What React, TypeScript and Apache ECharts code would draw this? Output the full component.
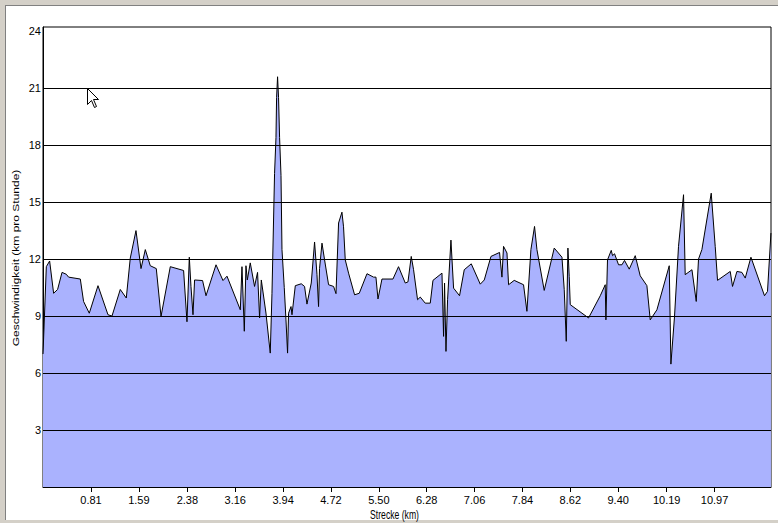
import React, { useEffect, useRef } from "react";
import * as echarts from "echarts";

const distanceKm = [
  0.028, 0.082, 0.136, 0.201, 0.266, 0.338, 0.408, 0.445, 0.636, 0.689,
  0.782, 0.924, 1.087, 1.152, 1.287, 1.385, 1.45, 1.543, 1.625, 1.695,
  1.776, 1.874, 1.951, 2.102, 2.319, 2.374, 2.412, 2.439, 2.472, 2.498,
  2.628, 2.684, 2.847, 2.961, 3.026,
  3.243, 3.27, 3.308, 3.335, 3.357, 3.405, 3.475, 3.524, 3.557, 3.585,
  3.661, 3.731, 3.759, 3.801, 3.824, 3.834, 3.85, 3.866, 3.883, 3.906,
  3.922, 3.959, 3.987, 4.013, 4.029, 4.069, 4.085, 4.139, 4.236, 4.29,
  4.329, 4.399, 4.453, 4.492, 4.518, 4.534, 4.574, 4.616, 4.681, 4.763,
  4.802, 4.844, 4.899, 4.925, 4.953, 5.007, 5.105, 5.181, 5.307, 5.414,
  5.453, 5.486, 5.551, 5.73, 5.821, 5.931, 5.975, 6.028,
  6.066, 6.131, 6.175, 6.256, 6.338, 6.382, 6.529, 6.555, 6.571, 6.594,
  6.62, 6.675, 6.718, 6.815, 6.892, 7.006, 7.153, 7.218, 7.327, 7.467,
  7.506, 7.532, 7.588, 7.614, 7.706, 7.858, 7.913, 7.978, 8.037, 8.076,
  8.195, 8.358, 8.484, 8.521, 8.554, 8.581, 8.602, 8.619, 8.917, 9.108,
  9.189, 9.2, 9.226, 9.287, 9.308, 9.341, 9.406, 9.461, 9.503, 9.58,
  9.678, 9.759, 9.868, 9.922, 10.031, 10.232, 10.259, 10.318, 10.383, 10.465,
  10.492, 10.602, 10.672, 10.709, 10.764, 10.916, 10.981, 11.019, 11.226, 11.263,
  11.335, 11.416, 11.47, 11.563, 11.784, 11.833, 11.889,
];

const speedKmh = [
  7.0, 11.6, 11.9, 10.2, 10.4, 11.3, 11.2, 11.05, 10.95, 9.77,
  9.15, 10.6, 9.07, 9.0, 10.4, 9.95, 12.05, 13.5, 11.5, 12.5,
  11.65, 11.5, 8.98, 11.6, 11.4, 8.7, 12.1, 10.56, 9.07, 10.9,
  10.87, 10.07, 11.7, 10.87, 11.1,
  9.33, 11.6, 8.2, 11.65, 10.9, 11.8, 10.56, 11.3, 8.9, 10.9,
  9.16, 7.05, 10.2, 16.5, 18.4, 20.5, 21.6, 20.5, 18.4, 16.4,
  12.5, 10.5, 8.8, 7.05, 9.15, 9.5, 9.07, 10.6, 10.7, 10.56,
  9.63, 10.74, 12.9, 11.2, 9.5, 11.5, 12.84, 11.96, 10.65, 10.56,
  10.18, 13.9, 14.47, 13.7, 11.96, 11.26, 10.12, 10.2, 11.23, 11.05,
  11.05, 9.9, 10.95, 10.95, 11.6, 10.74, 10.8, 12.14,
  11.44, 9.86, 10.0, 9.68, 9.68, 10.88, 11.26, 7.93, 10.74, 7.14,
  9.86, 13.0, 10.47, 10.07, 11.44, 11.75, 10.68, 10.9, 12.14, 12.35,
  11.05, 12.67, 12.32, 10.65, 10.88, 10.65, 9.25, 12.5, 13.72, 12.5,
  10.35, 12.58, 12.1, 10.39, 7.67, 12.58, 11.09, 9.6, 8.9, 10.07,
  10.65, 8.8, 11.96, 12.46, 12.18, 12.28, 11.7, 11.7, 11.93, 11.47,
  12.18, 11.12, 10.6, 8.8, 9.33, 11.65, 6.47, 8.98, 12.67, 15.39,
  11.18, 11.44, 9.77, 12.0, 12.5, 15.47, 12.67, 10.88, 11.35, 10.56,
  11.35, 11.3, 11.0, 12.1, 10.07, 10.3, 13.37,
];

const xTickValues = [0.81, 1.59, 2.38, 3.16, 3.94, 4.72, 5.5, 6.28, 7.06, 7.84, 8.62, 9.4, 10.19, 10.97];
const yTickValues = [3, 6, 9, 12, 15, 18, 21, 24];
const yGridValues = [3, 6, 9, 12, 15, 18, 21];

const xAxisTitle = "Strecke (km)";
const yAxisTitle = "Geschwindigkeit (km pro Stunde)";

const FONT = "'Liberation Sans', Arial, sans-serif";

export default function App() {
  const ref = useRef<HTMLDivElement>(null);

  useEffect(() => {
    if (!ref.current) return;
    const chart = echarts.init(ref.current, null, { renderer: "svg" });
    const data = distanceKm.map((d, i) => [d, speedKmh[i]]);
    chart.setOption({
      animation: false,
      backgroundColor: "#ffffff",
      grid: {
        left: 43,
        right: 7,
        top: 27,
        bottom: 36,
        show: true,
        borderColor: "#000000",
        borderWidth: 1,
        backgroundColor: "transparent",
      },
      xAxis: {
        type: "value",
        min: 0.028,
        max: 11.89,
        axisLine: { show: true, lineStyle: { color: "#000", width: 1 } },
        axisTick: { show: true, length: 5, lineStyle: { color: "#000" }, customValues: xTickValues },
        axisLabel: {
          customValues: xTickValues,
          formatter: (v: number) => v.toFixed(2),
          color: "#000",
          fontFamily: FONT,
          fontSize: 11,
          margin: 7,
        },
        splitLine: { show: false },
      },
      yAxis: {
        type: "value",
        min: 0,
        max: 24.22,
        interval: 3,
        axisLine: { show: true, lineStyle: { color: "#000", width: 1 } },
        axisTick: { show: false },
        axisLabel: {
          customValues: yTickValues,
          formatter: (v: number) => (yTickValues.includes(v) ? String(v) : ""),
          color: "#000",
          fontFamily: FONT,
          fontSize: 11,
          margin: 2,
        },
        splitLine: { show: false },
      },
      series: [
        {
          type: "line",
          data,
          symbol: "none",
          smooth: false,
          lineStyle: { color: "#000", width: 1 },
          areaStyle: { color: "#aab2fe", opacity: 1 },
          z: 1,
          markLine: {
            silent: true,
            symbol: "none",
            label: { show: false },
            lineStyle: { color: "#000", width: 1, type: "solid" },
            data: yGridValues.map((v) => ({ yAxis: v })),
          },
        },
      ],
      graphic: [
        { type: "rect", shape: { x: 0, y: 0, width: 778, height: 5 }, style: { fill: "#d4d0c8" }, silent: true },
        { type: "line", shape: { x1: 5, y1: 5.5, x2: 778, y2: 5.5 }, style: { stroke: "#808080", lineWidth: 1 }, silent: true },
        { type: "rect", shape: { x: 0, y: 0, width: 5, height: 523 }, style: { fill: "#d4d0c8" }, silent: true },
        { type: "line", shape: { x1: 5.5, y1: 5, x2: 5.5, y2: 520 }, style: { stroke: "#808080", lineWidth: 1 }, silent: true },
        { type: "rect", shape: { x: 0, y: 520, width: 778, height: 3 }, style: { fill: "#d4d0c8" }, silent: true },
        {
          type: "text",
          x: 394.5,
          y: 515,
          scaleX: 0.72,
          style: { text: xAxisTitle, fontFamily: FONT, fontSize: 12, fill: "#000", align: "center", verticalAlign: "middle" },
          silent: true,
        },
        {
          type: "text",
          x: 15,
          y: 258,
          rotation: Math.PI / 2,
          scaleY: 0.8,
          style: { text: yAxisTitle, fontFamily: FONT, fontSize: 12, fill: "#000", align: "center", verticalAlign: "middle" },
          silent: true,
        },
        {
          type: "polygon",
          x: 87.5,
          y: 88.5,
          shape: { points: [[0, 0], [0, 16], [4, 12], [7, 19], [9, 18], [6, 11], [11, 11]] },
          style: { fill: "#ffffff", stroke: "#000000", lineWidth: 1 },
          silent: true,
          z: 100,
        },
      ],
    });
    return () => chart.dispose();
  }, []);

  return (
    <div
      ref={ref}
      style={{ position: "fixed", left: 0, top: 0, width: 778, height: 523 }}
    />
  );
}
